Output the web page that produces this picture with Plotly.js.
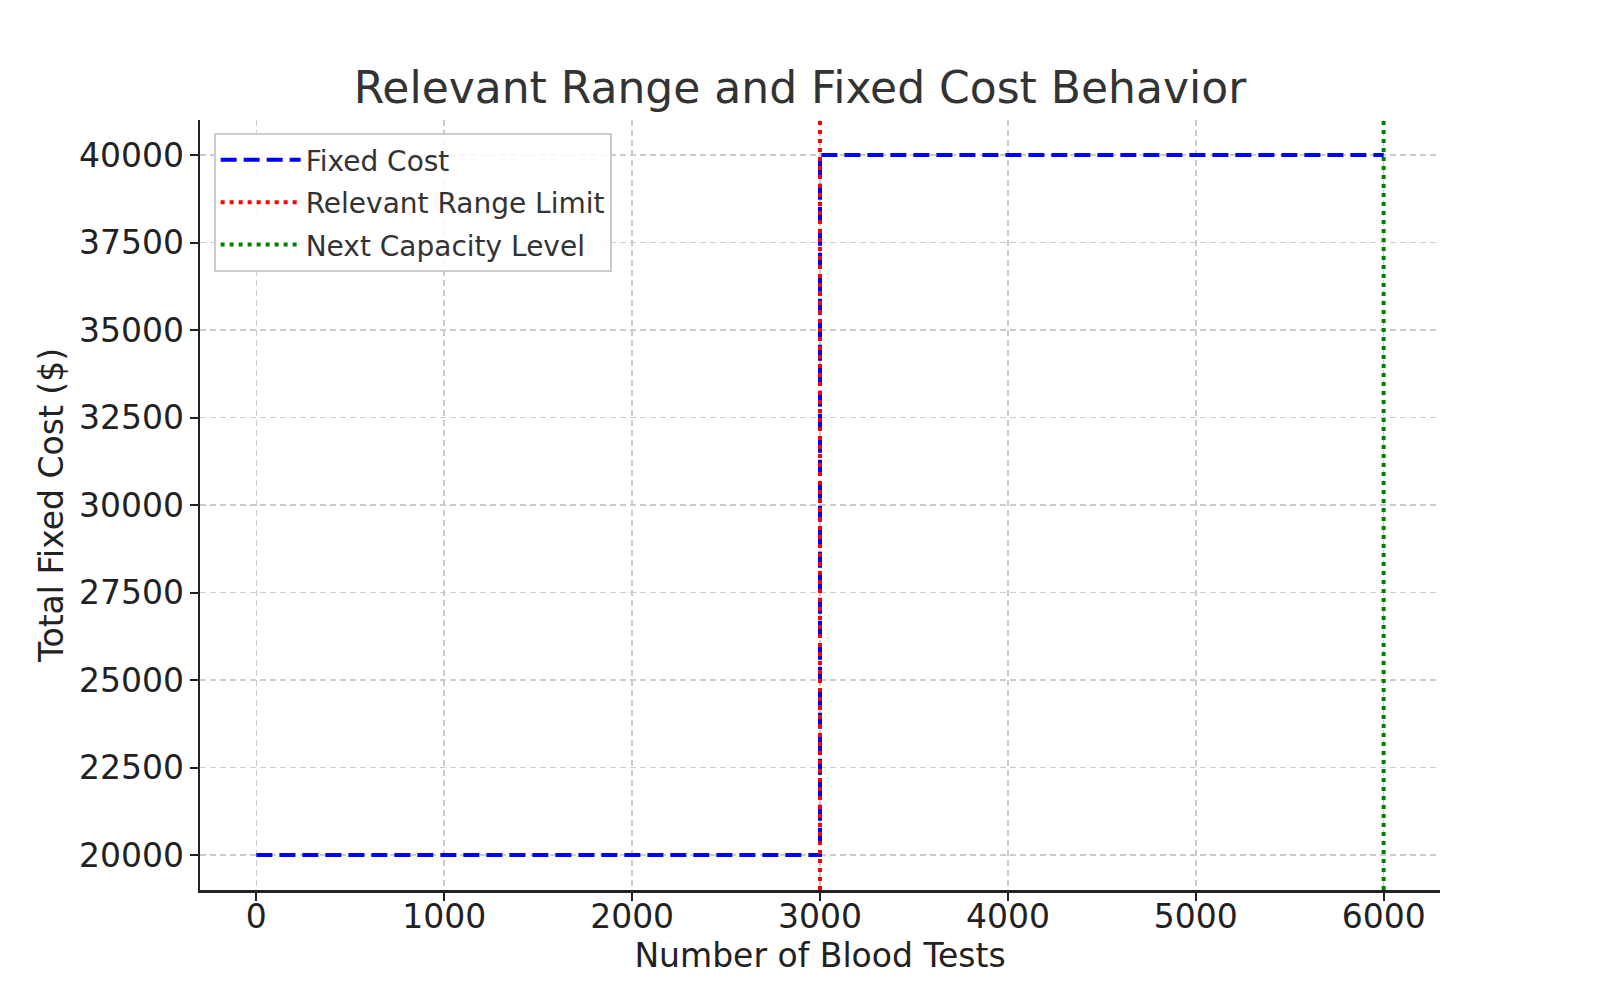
<!DOCTYPE html>
<html>
<head>
<meta charset="utf-8">
<script src="https://cdn.plot.ly/plotly-3.0.1.min.js"></script>
<style>
  html, body { margin: 0; padding: 0; background: #fff; }
  #chart { width: 1600px; height: 1000px; }
</style>
</head>
<body>
<div id="chart"></div>
<script>
// step of fixed cost at the capacity limit
const stepTests = [0, 3000, 3000, 6000];
const stepCost = [20000, 20000, 40000, 40000];

// vertical reference lines, spanning the whole y range
const rangeLimitX = [3000, 3000];
const nextCapacityX = [6000, 6000];
const vlineY = [19000, 41000];

const yTicks = [20000, 22500, 25000, 27500, 30000, 32500, 35000, 37500, 40000];
const xTicks = [0, 1000, 2000, 3000, 4000, 5000, 6000];

const font = "DejaVu Sans, sans-serif";

const traces = [
	{
		x: stepTests, y: stepCost, mode: 'lines', name: 'Fixed Cost', legendgroup: 'a',
		line: {color: 'blue', width: 4, dash: '16px,7px'}
	},
	{
		x: rangeLimitX, y: vlineY, mode: 'lines', name: 'Relevant Range Limit', legendgroup: 'b',
		line: {color: 'red', width: 4, dash: '4px,5px'}
	},
	{
		x: nextCapacityX, y: vlineY, mode: 'lines', name: 'Next Capacity Level', legendgroup: 'c',
		line: {color: 'green', width: 4, dash: '4px,5px'}
	}
];

const axisCommon = {
	showgrid: true,
	gridcolor: '#cccccc',
	gridwidth: 1.5,
	griddash: '6px,4px',
	zeroline: false,
	showline: true,
	linecolor: '#222',
	linewidth: 2.5,
	ticks: 'outside',
	ticklen: 8,
	tickwidth: 2,
	tickcolor: '#222',
	tickformat: 'd',
	tickfont: {family: font, size: 33, color: '#222'}
};

const layout = {
	width: 1600,
	height: 1000,
	paper_bgcolor: '#fff',
	plot_bgcolor: '#fff',
	margin: {l: 200, r: 160, t: 120, b: 110},
	title: {
		text: 'Relevant Range and Fixed Cost Behavior',
		font: {family: font, size: 44, color: '#333'},
		x: 0.5, xanchor: 'center', y: 0.912, yanchor: 'middle'
	},
	xaxis: Object.assign({}, axisCommon, {
		range: [-300, 6300],
		tickvals: xTicks,
		ticklabelstandoff: -12,
		title: {text: 'Number of Blood Tests', font: {family: font, size: 33, color: '#222'}, standoff: 8}
	}),
	yaxis: Object.assign({}, axisCommon, {
		range: [19000, 41000],
		tickvals: yTicks,
		ticklabelstandoff: -1,
		title: {text: 'Total Fixed Cost ($)', font: {family: font, size: 33, color: '#222'}, standoff: 6}
	}),
	showlegend: true,
	legend: {
		x: 0.011, y: 0.983, xanchor: 'left', yanchor: 'top',
		bgcolor: 'rgba(255,255,255,0.85)',
		bordercolor: '#cccccc',
		borderwidth: 2,
		itemwidth: 80,
		font: {family: font, size: 28, color: '#333'},
		tracegroupgap: 3
	}
};

Plotly.newPlot('chart', traces, layout, {displayModeBar: false, staticPlot: true});
</script>
</body>
</html>
